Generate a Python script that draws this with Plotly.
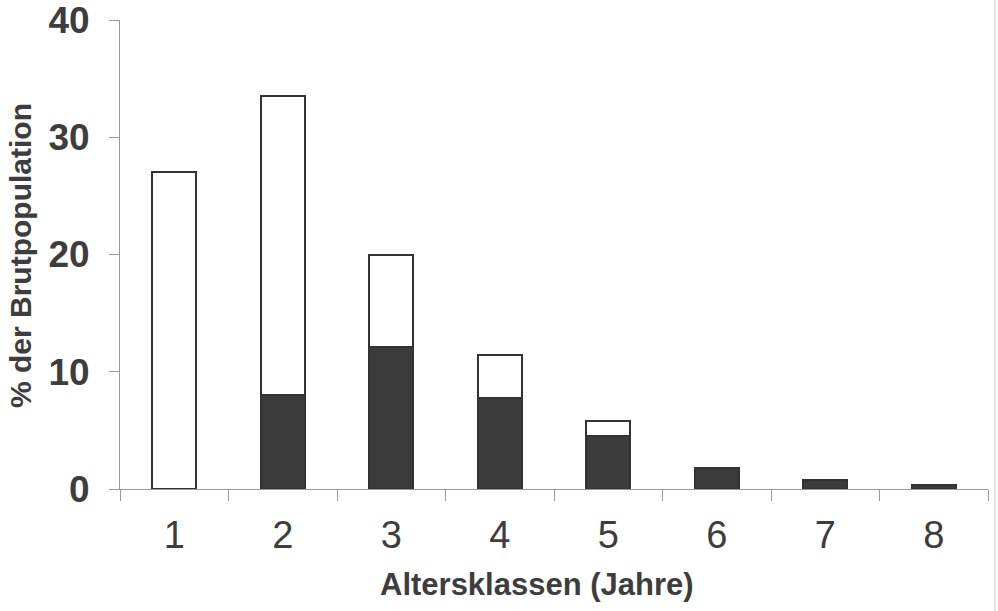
import plotly.graph_objects as go

categories = [1, 2, 3, 4, 5, 6, 7, 8]
tick_labels = ["1", "2", "3", "4", "5", "6", "7", "8"]
dark_values = [0.0, 8.0, 12.1, 7.8, 4.5, 1.8, 0.8, 0.35]
total_values = [27.0, 33.5, 20.0, 11.4, 5.8, 1.8, 0.8, 0.35]
white_values = [t - d for t, d in zip(total_values, dark_values)]

TEXT = "#3d3d3d"
AX = "#9a9a9a"
FONT = "Liberation Sans, Arial, sans-serif"

fig = go.Figure()
fig.add_trace(go.Bar(x=categories, y=dark_values, marker=dict(color="#3b3b3b", line=dict(color="#333333", width=2)),
                     showlegend=False))
fig.add_trace(go.Bar(x=categories, y=white_values, marker=dict(color="white", line=dict(color="#333333", width=2)),
                     showlegend=False))

fig.update_layout(
    barmode="stack",
    bargap=0.59,
    width=998, height=611,
    margin=dict(l=120, r=10, t=20, b=122, autoexpand=False),
    paper_bgcolor="white", plot_bgcolor="white",
    font=dict(family=FONT, color=TEXT),
)
fig.update_xaxes(
    range=[0.5, 8.5], automargin=False,
    tickmode="array", tickvals=categories, ticktext=tick_labels,
    ticks="", showgrid=False, zeroline=False,
    showline=True, linecolor=AX, linewidth=1,
    tickfont=dict(size=38, family=FONT, color=TEXT),
    ticklabelstandoff=12, ticklabeloverflow="allow",
    minor=dict(tick0=0.5, dtick=1, ticks="outside", ticklen=11, tickcolor=AX, tickwidth=1, showgrid=False),
)
fig.update_yaxes(
    range=[0, 40], automargin=False,
    tickmode="array", tickvals=[0, 10, 20, 30, 40],
    ticks="outside", ticklen=10, tickcolor=AX, tickwidth=1,
    showgrid=False, zeroline=False,
    showline=True, linecolor=AX, linewidth=1,
    tickfont=dict(size=37, family=FONT, color=TEXT, weight="bold"),
    ticklabelstandoff=12, ticklabeloverflow="allow",
)
fig.add_annotation(text="% der Brutpopulation", xref="paper", yref="paper",
                   x=(20 - 120) / 868, y=(489 - 256) / 469, textangle=-90, showarrow=False,
                   font=dict(size=30, family=FONT, color=TEXT, weight="bold"),
                   xanchor="center", yanchor="middle")
fig.add_annotation(text="Altersklassen (Jahre)", xref="paper", yref="paper",
                   x=(537 - 120) / 868, y=-(584 - 489) / 469, showarrow=False,
                   font=dict(size=31, family=FONT, color=TEXT, weight="bold"),
                   xanchor="center", yanchor="middle")
fig.add_shape(type="line", xref="paper", yref="paper",
              x0=(995 - 120) / 868, x1=(995 - 120) / 868, y0=-122 / 469, y1=(469 + 20) / 469,
              line=dict(color="#c8c8c8", width=1))

fig.write_html("out.html", config={"displayModeBar": False},
               post_script="document.body.style.margin='0';document.body.style.overflow='hidden';")
